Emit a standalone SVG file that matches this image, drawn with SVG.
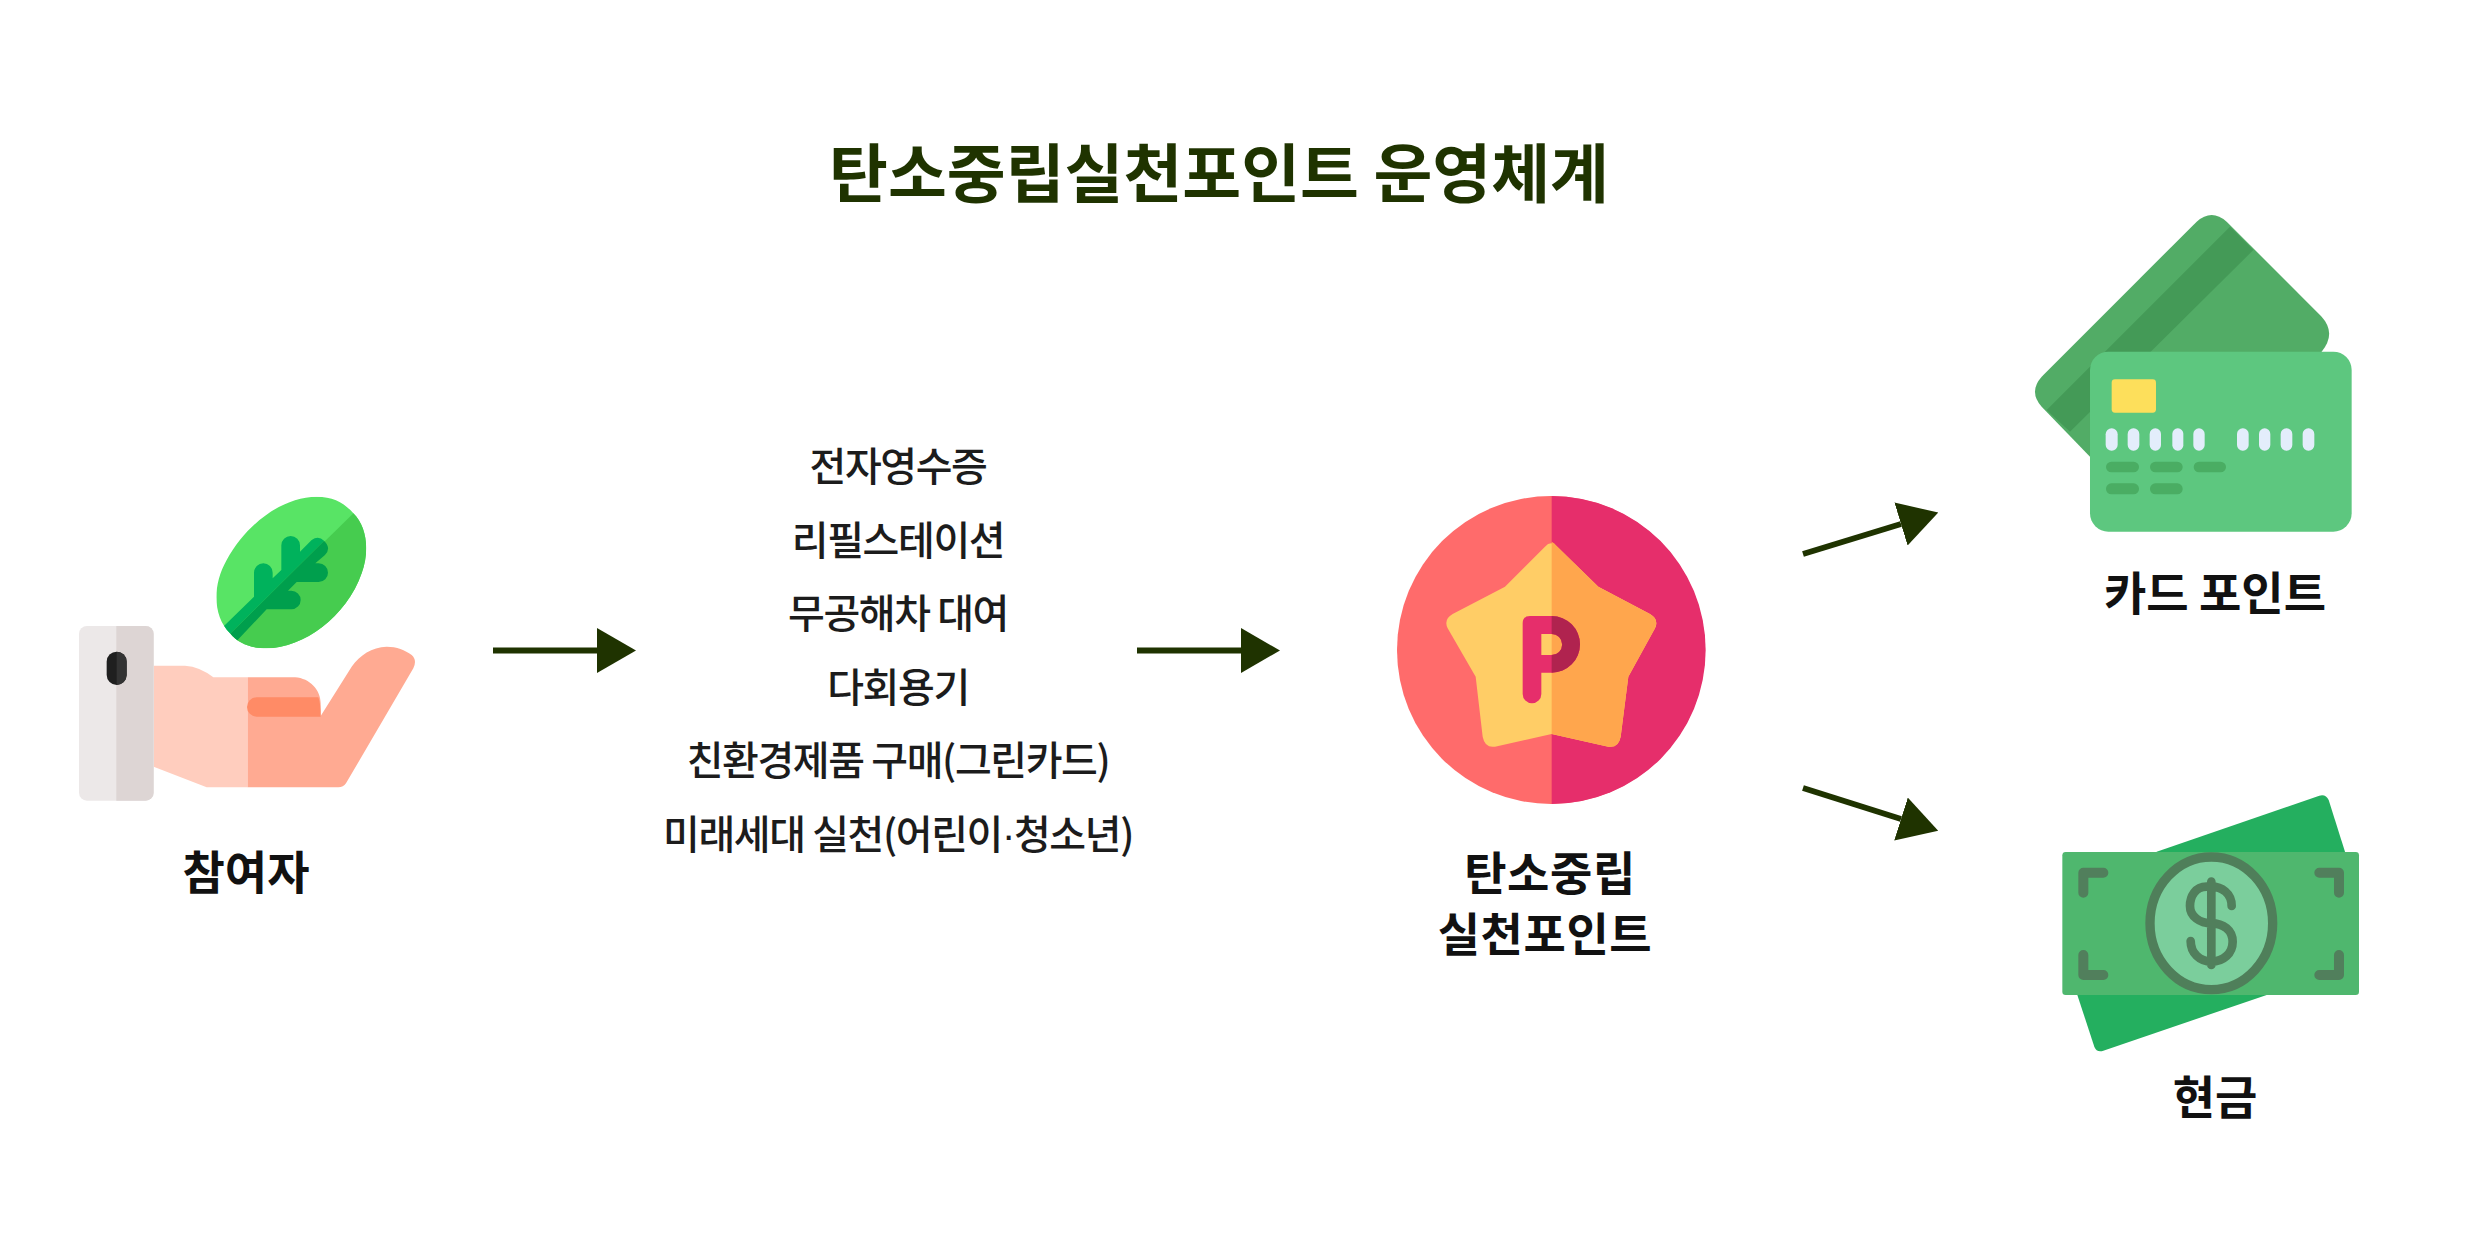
<svg xmlns="http://www.w3.org/2000/svg" width="2476" height="1256" viewBox="0 0 2476 1256">
<style>
text{font-family:"Noto Sans CJK KR","Noto Sans CJK SC",sans-serif;text-anchor:middle;fill:#111}
.title{font-size:64px;font-weight:700;fill:#1f3300}
.label{font-size:46px;font-weight:700}
.tight{letter-spacing:.6px}
.item{font-size:40px;font-weight:500;fill:#1c1c1c;letter-spacing:-1.4px}
.dot{font-family:"Liberation Sans",sans-serif}
.conn{stroke:#1f3300;stroke-width:6;fill:none;marker-end:url(#head)}
</style>
<defs>
<marker id="head" markerUnits="userSpaceOnUse" markerWidth="39" markerHeight="45" viewBox="0 0 39 45" refX="0" refY="22.5" orient="auto"><path d="M0 0L39 22.500L0 45Z" fill="#1f3300"/></marker>
<clipPath id="leafClip"><path d="M540 490C490 440 485 350 530 270C590 160 700 80 800 80C850 80 885 100 910 130C950 170 960 240 935 310C890 440 760 535 650 535C600 535 565 520 540 490Z"/></clipPath>
</defs>
<rect width="2476" height="1256" fill="#fff"/>
<text class="title" x="1219" y="197">탄소중립실천포인트 운영체계</text>
<g id="connectors">
<path class="conn" d="M493 650.500H597"/>
<path class="conn" d="M1137 650.500H1241"/>
<path class="conn" d="M1803 554L1901 524"/>
<path class="conn" d="M1803 788L1901 819"/>
</g>
<g id="node-participant">
<g transform="translate(50 470) scale(.33333)">
<path d="M311 587H405Q450 590 490 622H593V952H470L311 890Z" fill="#ffcdbe"/>
<path d="M593 622H735C780 625 812 660 812 700V738L905 590C930 555 965 532 1010 530C1040 530 1065 540 1085 555Q1102 570 1090 595L888 940Q880 952 865 952H593Z" fill="#ffaa92"/>
<path d="M620 682H805Q812 700 812 738V740H620A29 29 0 0 1 620 682Z" fill="#ff8b66"/>
<rect x="87" y="468" width="224" height="524" rx="24" fill="#ece8e8"/>
<path d="M199 468H287A24 24 0 0 1 311 492V968A24 24 0 0 1 287 992H199Z" fill="#ddd5d4"/>
<rect x="170" y="545" width="60" height="100" rx="30" fill="#1f1f1f"/>
<path d="M200 545A30 30 0 0 1 230 575V615A30 30 0 0 1 200 645Z" fill="#333"/>
<g clip-path="url(#leafClip)">
<rect x="480" y="70" width="490" height="480" fill="#58e465"/>
<path d="M545 487L915 125L980 130V550H540Z" fill="#46cc4f"/>
<path d="M515 475L612 380V308A28 28 0 0 1 668 308V325L694 300V226A28 28 0 0 1 750 226V245L785 210Q805 195 822 212L545 487L530 500Z" fill="#00b25c"/>
<path d="M545 487L822 212Q845 235 825 255L796 280H806A28 28 0 0 1 806 336H740L714 362H724A28 28 0 0 1 724 418H650L565 508L555 520L530 500Z" fill="#009f4d"/>
</g>
</g>
<text class="label" x="246" y="889">참여자</text>
</g>
<g id="node-items">
<text class="item" x="898" y="481">전자영수증</text>
<text class="item" x="898" y="554.500">리필스테이션</text>
<text class="item" x="898" y="628">무공해차 대여</text>
<text class="item" x="898" y="701.500">다회용기</text>
<text class="item" x="898" y="775">친환경제품 구매(그린카드)</text>
<text class="item" x="898" y="848.500">미래세대 실천(어린이<tspan class="dot">·</tspan>청소년)</text>
</g>
<g id="node-point">
<g transform="translate(1380 470) scale(.33333)">
<circle cx="513" cy="540" r="462" fill="#ff6b6b"/>
<path d="M515 78A462 462 0 0 1 515 1002Z" fill="#e62e6b"/>
<path d="M495 230Q513 210 532 230L655 350L810 432Q838 448 825 475L745 620L722 800Q715 835 685 830L515 792L345 830Q315 835 308 800L287 620L203 475Q190 448 218 432L375 350Z" fill="#ffcd66"/>
<path d="M515 215Q523 218 532 230L655 350L810 432Q838 448 825 475L745 620L722 800Q715 835 685 830L515 792Z" fill="#ffa64d"/>
<path fill-rule="evenodd" d="M450 438H515A85 85 0 0 1 515 608H484V672A28 28 0 0 1 428 672V460Q428 438 450 438ZM484 492V555H515A31.500 31.500 0 0 0 515 492Z" fill="#e62e6b"/>
<path fill-rule="evenodd" d="M515 438A85 85 0 0 1 515 608V555A31.500 31.500 0 0 0 515 492Z" fill="#b0234f"/>
</g>
<text class="label tight" x="1550" y="890">탄소중립</text>
<text class="label tight" x="1545" y="951">실천포인트</text>
</g>
<g id="node-card">
<g transform="translate(2020 200) scale(.33333)">
<path d="M65 530L530 65Q575 25 620 65L905 350Q950 400 905 455L210 770L65 620Q25 575 65 530Z" fill="#52ac66"/>
<path d="M630 80L700 150L150 695L80 630Z" fill="#449a57"/>
<rect x="210" y="455" width="785" height="540" rx="55" fill="#5dc77f"/>
<rect x="275" y="538" width="133" height="100" rx="10" fill="#fddf5b"/>
<g fill="#e3edfb">
<rect x="257" y="685" width="36" height="67" rx="18"/><rect x="323" y="685" width="35" height="67" rx="17"/><rect x="389" y="685" width="34" height="67" rx="17"/><rect x="457" y="685" width="33" height="67" rx="16"/><rect x="520" y="685" width="34" height="67" rx="17"/><rect x="651" y="685" width="35" height="67" rx="17"/><rect x="717" y="685" width="34" height="67" rx="17"/><rect x="782" y="685" width="35" height="67" rx="17"/><rect x="848" y="685" width="35" height="67" rx="17"/>
</g>
<g fill="#4aad63">
<rect x="258" y="785" width="99" height="32" rx="16"/><rect x="390" y="785" width="98" height="32" rx="16"/><rect x="521" y="785" width="97" height="32" rx="16"/><rect x="258" y="850" width="99" height="33" rx="16"/><rect x="390" y="850" width="98" height="33" rx="16"/>
</g>
</g>
<text class="label" x="2215" y="610">카드 포인트</text>
</g>
<g id="node-cash">
<g transform="translate(2040 780) scale(.33333)">
<path d="M350 215L838 47Q858 42 866 60L915 215V300L680 645L190 812Q170 818 163 800L112 645Z" fill="#24af5f"/>
<rect x="67" y="216" width="890" height="429" rx="10" fill="#4fb76e"/>
<ellipse cx="514" cy="430" rx="184" ry="199" fill="#7bce9c" stroke="#4f7f5a" stroke-width="28"/>
<g fill="none" stroke="#517f5c" stroke-width="30" stroke-linecap="round" stroke-linejoin="round">
<path d="M190 278H130V338M838 278H897V338M130 525V585H190M897 525V585H838"/>
<path stroke-width="26" d="M514 305V555M575 378C575 340 545 320 514 320H500C465 320 450 350 450 378C450 410 480 430 514 430C550 430 578 450 578 485C578 520 550 545 514 545C480 545 452 520 452 483"/>
</g>
</g>
<text class="label" x="2215" y="1114">현금</text>
</g>
</svg>
